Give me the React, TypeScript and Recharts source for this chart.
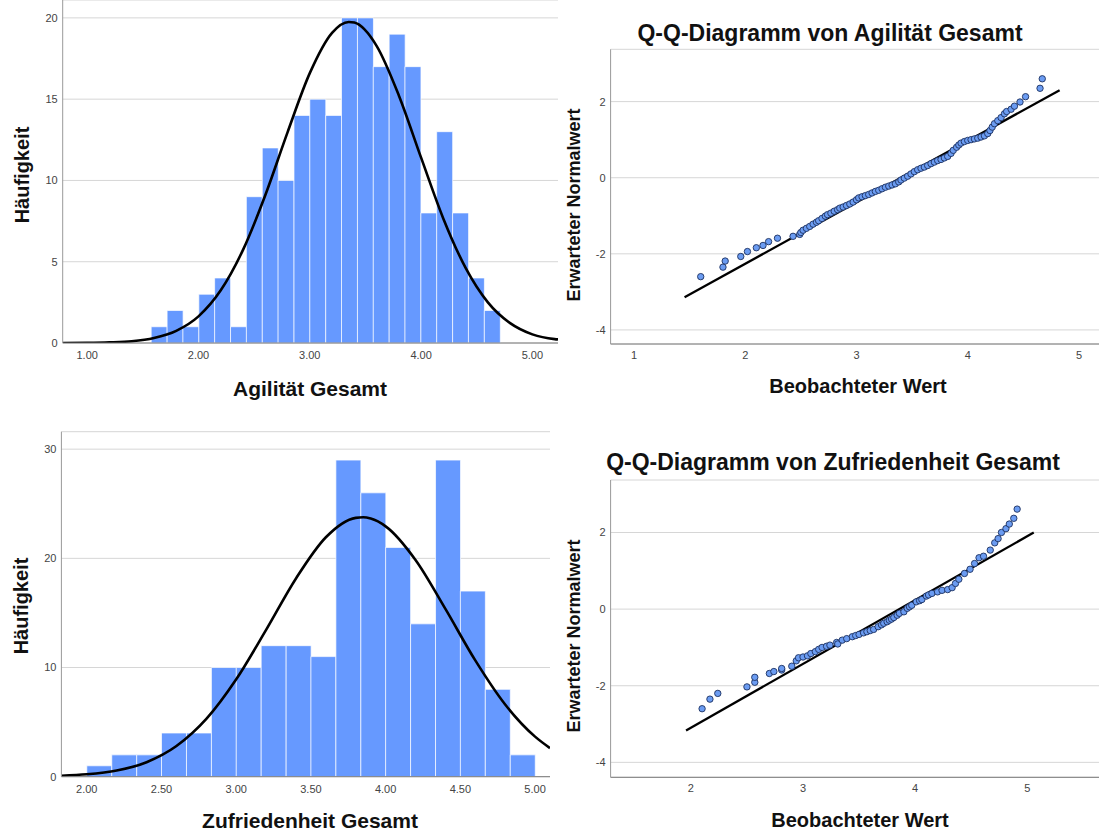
import { ComposedChart, Bar, Line, Scatter, XAxis, YAxis, CartesianGrid } from 'recharts'

const FONT = '"Liberation Sans", Arial, Helvetica, sans-serif'

// --- Histogram 1: Agilität Gesamt (bin centres, counts, fitted normal curve)
const agilityBinCenters = [1.646, 1.789, 1.931, 2.074, 2.216, 2.359, 2.501, 2.644, 2.786, 2.929, 3.071, 3.214, 3.356, 3.499, 3.641, 3.784, 3.926, 4.069, 4.211, 4.354, 4.496, 4.639]
const agilityCounts = [1, 2, 1, 3, 4, 1, 9, 12, 10, 14, 15, 14, 20, 20, 17, 19, 17, 8, 13, 8, 4, 2]
const agilityCurveX = [0.78, 1.0, 1.2, 1.4, 1.6, 1.8, 2.0, 2.2, 2.4, 2.6, 2.8, 3.0, 3.2, 3.35, 3.4, 3.6, 3.8, 4.0, 4.2, 4.4, 4.6, 4.8, 5.0, 5.2, 5.23]
const agilityCurveY = [0.0, 0.01, 0.04, 0.11, 0.31, 0.75, 1.64, 3.24, 5.73, 9.09, 12.96, 16.6, 19.08, 19.75, 19.71, 18.28, 15.23, 11.4, 7.65, 4.62, 2.5, 1.22, 0.53, 0.24, 0.22]
const agilityTicks = [1, 2, 3, 4, 5]
const agilityCountTicks = [0, 5, 10, 15, 20]

// --- Histogram 2: Zufriedenheit Gesamt
const satisfactionBinCenters = [2.083, 2.25, 2.417, 2.583, 2.75, 2.917, 3.083, 3.25, 3.417, 3.583, 3.75, 3.917, 4.083, 4.25, 4.417, 4.583, 4.75, 4.917]
const satisfactionCounts = [1, 2, 2, 4, 4, 10, 10, 12, 12, 11, 29, 26, 21, 14, 29, 17, 8, 2]
const satisfactionCurveX = [1.83, 2.0, 2.2, 2.4, 2.6, 2.8, 3.0, 3.2, 3.4, 3.6, 3.8, 3.85, 3.9, 4.0, 4.2, 4.4, 4.6, 4.8, 5.0, 5.1]
const satisfactionCurveY = [0.09, 0.22, 0.57, 1.33, 2.81, 5.29, 8.92, 13.45, 18.16, 21.93, 23.71, 23.76, 23.64, 22.93, 19.85, 15.37, 10.65, 6.61, 3.67, 2.62]
const satisfactionTicks = [2, 2.5, 3, 3.5, 4, 4.5, 5]
const satisfactionCountTicks = [0, 10, 20, 30]

// --- Q-Q plot 1: Agilität Gesamt (observed value, expected normal value)
const agilityQQ: [number, number][] = [
  [1.60, -2.60], [1.80, -2.35], [1.82, -2.19], [1.96, -2.07], [2.02, -1.94], [2.10, -1.84], [2.16, -1.78], [2.21, -1.68],
  [2.29, -1.59], [2.43, -1.54], [2.49, -1.49], [2.50, -1.44], [2.52, -1.38], [2.55, -1.33], [2.58, -1.28], [2.61, -1.22],
  [2.64, -1.17], [2.66, -1.13], [2.69, -1.07], [2.72, -1.01], [2.74, -0.97], [2.77, -0.93], [2.80, -0.88], [2.83, -0.84],
  [2.85, -0.80], [2.88, -0.77], [2.91, -0.73], [2.94, -0.69], [2.97, -0.64], [3.00, -0.58], [3.02, -0.53], [3.05, -0.50],
  [3.08, -0.47], [3.11, -0.44], [3.14, -0.40], [3.17, -0.36], [3.20, -0.33], [3.23, -0.29], [3.26, -0.25], [3.29, -0.22],
  [3.32, -0.19], [3.35, -0.16], [3.38, -0.11], [3.40, -0.06], [3.43, -0.01], [3.46, 0.04], [3.49, 0.10], [3.52, 0.16],
  [3.55, 0.21], [3.58, 0.25], [3.61, 0.28], [3.64, 0.32], [3.67, 0.37], [3.70, 0.41], [3.73, 0.45], [3.76, 0.48],
  [3.79, 0.52], [3.82, 0.56], [3.85, 0.64], [3.87, 0.72], [3.90, 0.80], [3.92, 0.86], [3.94, 0.91], [3.97, 0.95],
  [4.00, 0.98], [4.03, 1.00], [4.06, 1.02], [4.09, 1.04], [4.12, 1.07], [4.15, 1.10], [4.18, 1.16], [4.20, 1.24],
  [4.22, 1.33], [4.24, 1.42], [4.27, 1.50], [4.30, 1.58], [4.33, 1.68], [4.35, 1.74], [4.39, 1.80], [4.42, 1.88],
  [4.47, 1.99], [4.52, 2.13], [4.65, 2.35], [4.67, 2.60],
]
const agilityQQLine: [number, number][] = [[1.455, -3.14], [4.826, 2.30]]

// --- Q-Q plot 2: Zufriedenheit Gesamt
const satisfactionQQ: [number, number][] = [
  [2.10, -2.60], [2.17, -2.35], [2.24, -2.20], [2.50, -2.03], [2.57, -1.91], [2.57, -1.78], [2.70, -1.68], [2.74, -1.63],
  [2.81, -1.59], [2.81, -1.55], [2.90, -1.49], [2.94, -1.35], [2.96, -1.27], [3.00, -1.25], [3.04, -1.22], [3.07, -1.16],
  [3.11, -1.11], [3.14, -1.05], [3.17, -1.00], [3.21, -0.97], [3.24, -0.94], [3.30, -0.87], [3.31, -0.91], [3.35, -0.81],
  [3.39, -0.77], [3.44, -0.72], [3.47, -0.69], [3.50, -0.66], [3.54, -0.62], [3.57, -0.59], [3.60, -0.56], [3.63, -0.53],
  [3.67, -0.46], [3.70, -0.41], [3.72, -0.37], [3.75, -0.33], [3.77, -0.29], [3.79, -0.26], [3.81, -0.22], [3.84, -0.16],
  [3.86, -0.11], [3.90, -0.07], [3.93, 0.02], [3.95, 0.06], [3.97, 0.10], [4.01, 0.19], [4.04, 0.22], [4.06, 0.25],
  [4.10, 0.34], [4.12, 0.37], [4.15, 0.41], [4.20, 0.45], [4.24, 0.49], [4.29, 0.51], [4.33, 0.56], [4.36, 0.67],
  [4.39, 0.78], [4.44, 0.93], [4.49, 1.04], [4.53, 1.19], [4.57, 1.34], [4.61, 1.38], [4.67, 1.54], [4.71, 1.73],
  [4.74, 1.84], [4.77, 2.00], [4.81, 2.10], [4.84, 2.22], [4.88, 2.37], [4.91, 2.61],
]
const satisfactionQQLine: [number, number][] = [[1.957, -3.17], [5.058, 2.00]]

const qqTicksTop = [1, 2, 3, 4, 5]
const qqTicksBottom = [2, 3, 4, 5]
const qqValueTicks = [-4, -2, 0, 2]

const tickStyle = { fill: '#444', fontSize: 11, fontFamily: FONT }

function Histogram({ centers, counts, curveX, curveY, xDomain, yDomain, xTicks, yTicks, width, height, margin, xAxisHeight }: any) {
  const bins = centers.map((x: number, i: number) => ({ x, count: counts[i] }))
  const curve = curveX.map((x: number, i: number) => ({ x, y: curveY[i] }))
  return (
    <ComposedChart width={width} height={height} data={bins} margin={margin} barCategoryGap={0} barGap={0}>
      <CartesianGrid xAxisId="bins" vertical={false} stroke="#d6d6d6" />
      <XAxis xAxisId="bins" dataKey="x" type="number" domain={xDomain} allowDataOverflow ticks={xTicks} interval={0}
        tickFormatter={(v: number) => v.toFixed(2)} tickLine={false} tickSize={0} tickMargin={8} height={xAxisHeight}
        axisLine={{ stroke: '#7a7a7a' }} tick={tickStyle} />
      <XAxis xAxisId="curve" dataKey="x" type="number" domain={xDomain} allowDataOverflow hide />
      <YAxis type="number" domain={yDomain} allowDataOverflow ticks={yTicks} interval={0} width={50}
        tickLine={false} tickSize={0} tickMargin={5} axisLine={{ stroke: '#999' }} tick={tickStyle} />
      <Bar xAxisId="bins" dataKey="count" fill="#6699ff" stroke="#ffffff" strokeOpacity={0.7} strokeWidth={1} isAnimationActive={false} />
      <Line xAxisId="curve" data={curve} dataKey="y" type="monotone" stroke="#000" strokeWidth={2.6}
        dot={false} activeDot={false} isAnimationActive={false} />
    </ComposedChart>
  )
}

function QQPlot({ points, line, xDomain, yDomain, xTicks, width, height, margin, xAxisHeight }: any) {
  const pts = points.map(([x, y]: number[]) => ({ x, y }))
  const ref = line.map(([x, y]: number[]) => ({ x, y }))
  return (
    <ComposedChart width={width} height={height} margin={margin}>
      <CartesianGrid vertical={false} stroke="#d6d6d6" />
      <XAxis dataKey="x" type="number" domain={xDomain} allowDataOverflow ticks={xTicks} interval={0}
        tickLine={false} tickSize={0} tickMargin={7} height={xAxisHeight} axisLine={{ stroke: '#7a7a7a' }} tick={tickStyle} />
      <YAxis dataKey="y" type="number" domain={yDomain} allowDataOverflow ticks={qqValueTicks} interval={0} width={40}
        tickLine={false} tickSize={0} tickMargin={5} axisLine={{ stroke: '#999' }} tick={tickStyle} />
      <Scatter data={pts} isAnimationActive={false}
        shape={(p: any) => <circle cx={p.cx} cy={p.cy} r={3.2} fill="#6b9cf2" stroke="#1d3160" strokeWidth={0.9} />} />
      <Line data={ref} dataKey="y" type="linear" stroke="#000" strokeWidth={2.3} dot={false} activeDot={false} isAnimationActive={false} />
    </ComposedChart>
  )
}

function Caption({ text, x, y, size, vertical }: any) {
  return (
    <div style={{
      position: 'absolute', left: x, top: y, fontSize: size, fontWeight: 700, lineHeight: 1, whiteSpace: 'nowrap',
      color: '#111', transform: `translate(-50%, -50%)${vertical ? ' rotate(-90deg)' : ''}`,
    }}>{text}</div>
  )
}

export default function App() {
  return (
    <div style={{ position: 'absolute', left: 0, top: 0, width: 1099, height: 832, background: '#fff', fontFamily: FONT, overflow: 'hidden' }}>
      <div style={{ position: 'absolute', left: 0, top: 0 }}>
        <Histogram centers={agilityBinCenters} counts={agilityCounts} curveX={agilityCurveX} curveY={agilityCurveY}
          xDomain={[0.78, 5.23]} yDomain={[0, 21.1]} xTicks={agilityTicks} yTicks={agilityCountTicks}
          width={560} height={410} margin={{ top: 0, right: 2, bottom: 0, left: 12.7 }} xAxisHeight={67} />
      </div>
      <div style={{ position: 'absolute', left: 0, top: 420 }}>
        <Histogram centers={satisfactionBinCenters} counts={satisfactionCounts} curveX={satisfactionCurveX} curveY={satisfactionCurveY}
          xDomain={[1.83, 5.1]} yDomain={[0, 31.6]} xTicks={satisfactionTicks} yTicks={satisfactionCountTicks}
          width={560} height={412} margin={{ top: 11.7, right: 10, bottom: 0, left: 11.4 }} xAxisHeight={55.3} />
      </div>
      <div style={{ position: 'absolute', left: 560, top: 0 }}>
        <QQPlot points={agilityQQ} line={agilityQQLine} xDomain={[0.79, 5.18]} yDomain={[-4.37, 3.375]} xTicks={qqTicksTop}
          width={539} height={410} margin={{ top: 49.3, right: 0, bottom: 0, left: 10.6 }} xAxisHeight={66} />
      </div>
      <div style={{ position: 'absolute', left: 560, top: 420 }}>
        <QQPlot points={satisfactionQQ} line={satisfactionQQLine} xDomain={[1.284, 5.64]} yDomain={[-4.39, 3.37]} xTicks={qqTicksBottom}
          width={539} height={412} margin={{ top: 60, right: 0, bottom: 0, left: 10.6 }} xAxisHeight={54.7} />
      </div>

      <Caption text="Häufigkeit" x={22} y={175} size={20} vertical />
      <Caption text="Agilität Gesamt" x={310} y={388} size={21} />
      <Caption text="Häufigkeit" x={21} y={606} size={20} vertical />
      <Caption text="Zufriedenheit Gesamt" x={310} y={820} size={21} />

      <Caption text="Q-Q-Diagramm von Agilität Gesamt" x={830} y={33} size={23} />
      <Caption text="Erwarteter Normalwert" x={574} y={205} size={18} vertical />
      <Caption text="Beobachteter Wert" x={858} y={386} size={20} />
      <Caption text="Q-Q-Diagramm von Zufriedenheit Gesamt" x={833} y={462} size={23} />
      <Caption text="Erwarteter Normalwert" x={574} y={636} size={18} vertical />
      <Caption text="Beobachteter Wert" x={860} y={820} size={20} />
    </div>
  )
}
